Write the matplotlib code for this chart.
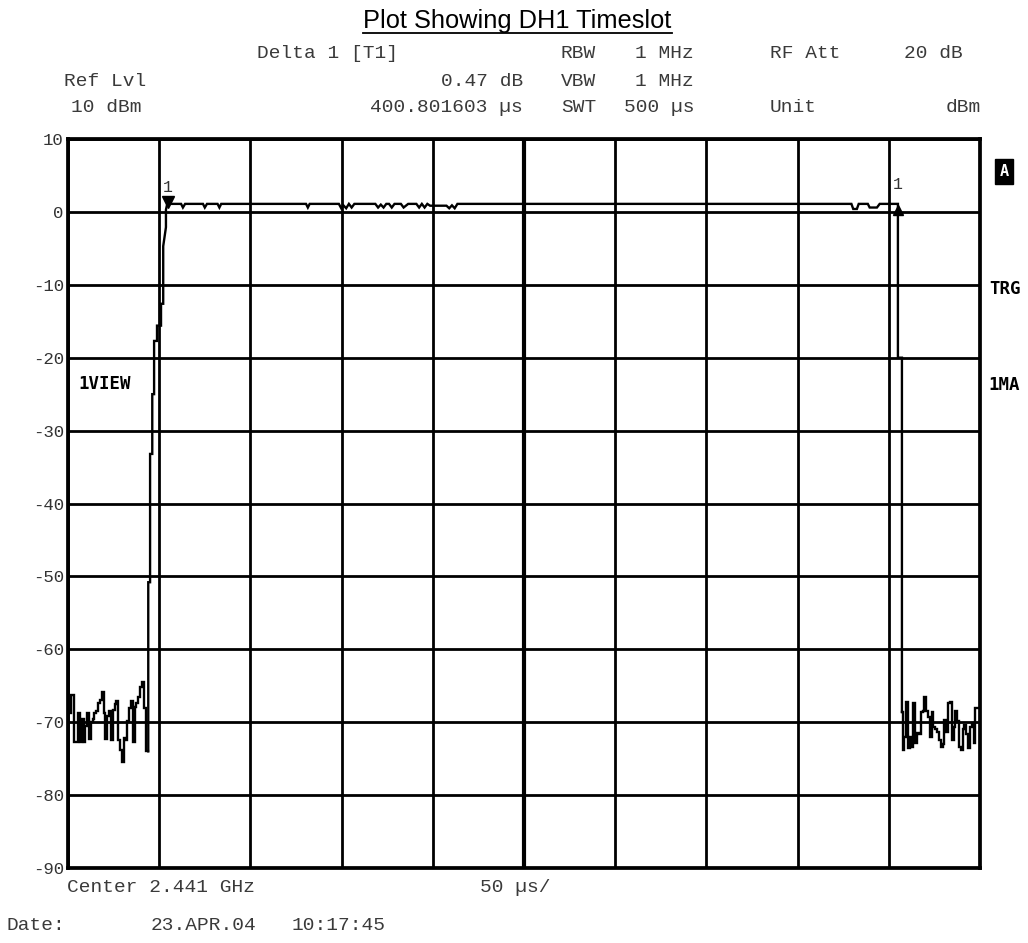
import matplotlib
matplotlib.use("Agg")
import matplotlib.pyplot as plt
from matplotlib.lines import Line2D
import numpy as np

# ---------------- data ----------------
noise_left_t = list(range(0, 44))
noise_left_db = [-68.8, -68.8, -66.3, -66.3, -72.7, -72.7, -68.8, -72.7, -69.5, -72.7,
                 -70.5, -68.8, -72.3, -70.0, -69.5, -68.8, -68.4, -67.4, -67.0, -65.8,
                 -68.8, -72.3, -69.1, -68.4, -72.5, -68.3, -67.5, -67.1, -72.5, -73.8,
                 -75.4, -72.1, -72.5, -69.8, -68.0, -67.1, -72.7, -67.9, -67.4, -66.5,
                 -65.2, -64.5, -68.0, -74.0]

rise_t = [44.0, 44.0, 45.0, 45.0, 46.2, 46.2, 47.2, 47.2, 48.8, 48.8, 51.0, 51.0,
          52.2, 52.2, 53.7, 53.7, 54.4]
rise_db = [-74.0, -50.8, -50.8, -33.2, -33.2, -25.0, -25.0, -17.7, -17.7, -15.6, -15.6,
           -12.6, -12.6, -4.7, -2.1, 0.3, 1.1]

plateau_t = [62.0, 63.0, 64.2, 74.0, 75.0, 76.2, 82.0, 83.0, 84.0, 130.5, 131.5, 132.5,
             148.5, 149.8, 151.0, 152.5, 154.0, 155.5, 157.0, 168.5, 170.0, 171.5, 173.0,
             174.5, 176.0, 177.5, 179.0, 182.5, 184.0, 186.5, 191.0, 192.5, 194.0, 195.5,
             197.0, 198.5, 199.5, 207.5, 209.0, 210.5, 212.0, 213.5, 215.0, 429.5, 430.5,
             432.5, 433.5, 438.5, 439.5, 443.5, 445.0, 455.0]
plateau_db = [1.1, 0.6, 1.1, 1.1, 0.6, 1.1, 1.1, 0.6, 1.1, 1.1, 0.6, 1.1,
              1.1, 0.5, 0.9, 0.5, 1.1, 0.6, 1.1, 1.1, 0.6, 1.0, 0.6,
              1.1, 1.1, 0.6, 1.1, 1.1, 0.6, 1.1, 1.1, 0.6, 1.1, 0.6,
              1.1, 0.85, 0.85, 0.85, 0.5, 0.9, 0.5, 1.1, 1.1, 1.1, 0.4,
              0.4, 1.1, 1.1, 0.6, 0.6, 1.1, 1.1]

fall_t = [455.0, 457.2, 457.2]
fall_db = [-20.0, -20.0, -68.6]

noise_right_t = list(range(458, 501))
noise_right_db = [-73.8, -72.0, -67.2, -73.6, -72.0, -73.4, -67.4, -72.9, -71.5, -71.6,
                  -68.6, -68.4, -66.5, -68.5, -69.3, -72.0, -68.6, -70.6, -71.0, -71.3,
                  -72.5, -73.4, -73.0, -69.7, -71.3, -67.4, -67.2, -72.5, -70.6, -68.4,
                  -69.9, -73.4, -73.8, -71.0, -70.4, -71.6, -73.6, -70.6, -70.1, -72.9,
                  -68.1, -68.1, -68.1]

marker1_t, marker1_db = 54.6, 1.4
delta1_t, delta1_db = 455.2, 0.25

x_ticks = list(range(0, 501, 50))
y_ticks = [10, 0, -10, -20, -30, -40, -50, -60, -70, -80, -90]
y_tick_labels = ["10", "0", "-10", "-20", "-30", "-40", "-50", "-60", "-70", "-80", "-90"]

title = "Plot Showing DH1 Timeslot"
header = [
    ("Delta 1 [T1]", 257, 54, "left"), ("RBW", 561, 54, "left"), ("1 MHz", 694, 54, "right"),
    ("RF Att", 770, 54, "left"), ("20 dB", 963, 54, "right"),
    ("Ref Lvl", 64, 81, "left"), ("0.47 dB", 523, 81, "right"), ("VBW", 561, 81, "left"),
    ("1 MHz", 694, 81, "right"),
    ("10 dBm", 71, 108, "left"), ("400.801603 µs", 523, 108, "right"), ("SWT", 561, 108, "left"),
    ("500 µs", 694, 108, "right"), ("Unit", 770, 108, "left"), ("dBm", 981, 108, "right"),
]
footer = [
    ("Center 2.441 GHz", 67, 887, "left"), ("50 µs/", 480, 887, "left"),
    ("Date:", 6, 925, "left"), ("23.APR.04", 151, 925, "left"), ("10:17:45", 292, 925, "left"),
]

# ---------------- figure ----------------
W, H = 1028, 943
fig = plt.figure(figsize=(W / 100, H / 100), dpi=100)
fig.patch.set_facecolor("white")

def fx(x):
    return x / W

def fy(y):
    return 1 - y / H

L, R, T, B = 68, 980, 139, 868
ax = fig.add_axes([fx(L), fy(B), (R - L) / W, (B - T) / H])
ax.set_xlim(0, 500)
ax.set_ylim(-90, 10)
ax.set_xticks(x_ticks)
ax.set_yticks(y_ticks)
ax.set_yticklabels(y_tick_labels, family="Liberation Mono", fontsize=12.5, color="#333333")
ax.tick_params(length=0, labelbottom=False, pad=3)
ax.grid(True, color="black", lw=2.0)
ax.set_axisbelow(True)
ax.axvline(250, color="black", lw=3.0, zorder=1.5)
for s in ax.spines.values():
    s.set_linewidth(2.7)
    s.set_color("black")

line_kw = dict(color="black", lw=1.7, zorder=3, solid_joinstyle="miter")
ax.plot(noise_left_t + [rise_t[0]], noise_left_db + [rise_db[0]], drawstyle="steps-mid", **line_kw)
ax.plot(rise_t + plateau_t + fall_t, rise_db + plateau_db + fall_db, **line_kw)
ax.plot([fall_t[-1]] + noise_right_t, [fall_db[-1]] + noise_right_db, drawstyle="steps-mid", **line_kw)

ax.plot([marker1_t], [marker1_db], marker="v", ms=8, color="black", zorder=4)
ax.plot([delta1_t], [delta1_db], marker="^", ms=7, color="black", zorder=4)
ax.text(marker1_t, 3.35, "1", family="Liberation Mono", fontsize=12, color="#333333",
        ha="center", va="center")
ax.text(delta1_t - 0.5, 3.8, "1", family="Liberation Mono", fontsize=12, color="#333333",
        ha="center", va="center")

# text
mono = dict(family="Liberation Mono", fontsize=14, color="#3a3a3a", va="center")
for txt, x, y, ha in header + footer:
    fig.text(fx(x), fy(y), txt, ha=ha, **mono)

tt = fig.text(fx(517.5), fy(28), title, family="Liberation Sans", fontsize=18.3,
              ha="center", va="baseline", color="black")
fig.canvas.draw()
bb = tt.get_window_extent(fig.canvas.get_renderer())
fig.add_artist(Line2D([bb.x0 / W, bb.x1 / W], [fy(32.5), fy(32.5)], color="black",
                      lw=1.3, transform=fig.transFigure))

bold = dict(family="DejaVu Sans Mono", fontweight="bold", fontsize=12.5, color="black",
            va="center")
fig.text(fx(78), fy(384), "1VIEW", ha="left", **bold)
fig.text(fx(989), fy(289), "TRG", ha="left", **bold)
fig.text(fx(988), fy(385), "1MA", ha="left", **bold)
fig.text(fx(1004), fy(171.5), "A", ha="center", color="white", family="DejaVu Sans Mono",
         fontweight="bold", fontsize=11, va="center",
         bbox=dict(boxstyle="square,pad=0.3", fc="black", ec="black"))

fig.savefig("out.png", dpi=100, facecolor="white")
